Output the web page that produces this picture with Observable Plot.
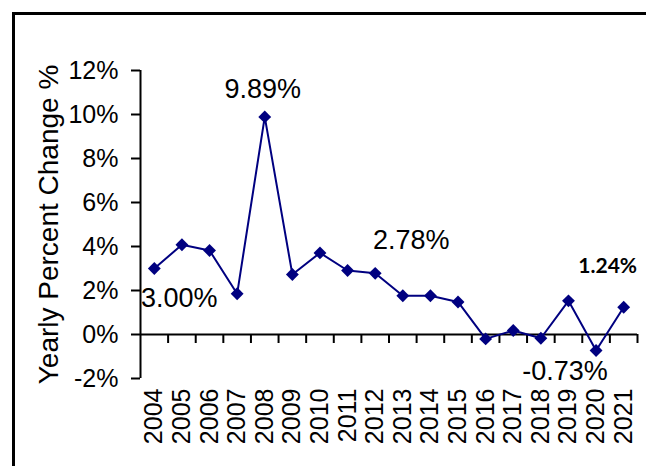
<!DOCTYPE html>
<html><head><meta charset="utf-8">
<script src="https://cdn.jsdelivr.net/npm/d3@7"></script>
<script src="https://cdn.jsdelivr.net/npm/@observablehq/plot@0.6"></script>
<style>
html,body{margin:0;padding:0;background:#fff;}
#wrap{position:relative;width:646px;height:466px;overflow:hidden;}
#frame{position:absolute;left:12px;top:12px;right:-10px;bottom:-10px;border-left:3px solid #000;border-top:3px solid #000;}
#chart{position:absolute;left:0;top:0;}
</style></head><body>
<div id="wrap"><div id="frame"></div><div id="chart"></div></div>
<script>
const years = [2004,2005,2006,2007,2008,2009,2010,2011,2012,2013,2014,2015,2016,2017,2018,2019,2020,2021];
const values = [3.00,4.08,3.82,1.85,9.89,2.73,3.71,2.91,2.78,1.76,1.76,1.48,-0.20,0.18,-0.17,1.53,-0.73,1.24];
const yTicks = [-2,0,2,4,6,8,10,12];
const yTitle = "Yearly Percent Change %";

const data = years.map((year, i) => ({year, value: values[i]}));
const xDomain = [years[0] - 0.5, years[years.length - 1] + 0.5];
const boundaries = years.map(y => y + 0.5);
const fmt = d => d.toFixed(2) + "%";
const NAVY = "#000080";
const FONT = "'Liberation Sans', Arial, sans-serif";

function label(year, dx, dy, extra = {}) {
  return Plot.text(data.filter(d => d.year === year), {
    x: "year", y: "value", text: d => fmt(d.value),
    dx, dy, fontSize: 27, fill: "#000", ...extra
  });
}

const chart = Plot.plot({
  width: 646, height: 466,
  marginTop: 70, marginBottom: 88, marginLeft: 140, marginRight: 9,
  style: {fontFamily: FONT, fontSize: "25px", background: "transparent", overflow: "visible", color: "#000"},
  x: {type: "linear", domain: xDomain, axis: null},
  y: {domain: [-2, 12], axis: null},
  marks: [
    Plot.axisY({ticks: yTicks, tickFormat: d => d + "%", tickSize: 9, tickPadding: 13, strokeWidth: 2, label: null}),
    Plot.axisX({ticks: years, tickFormat: d => String(d), tickRotate: -90, tickSize: 0, tickPadding: 10, label: null}),
    Plot.ruleX([xDomain[0]], {stroke: "#000", strokeWidth: 2}),
    Plot.ruleY([0], {stroke: "#000", strokeWidth: 2}),
    Plot.ruleX(boundaries, {x: d => d, y1: 0, y2: -0.41, stroke: "#000", strokeWidth: 2}),
    Plot.line(data, {x: "year", y: "value", stroke: NAVY, strokeWidth: 2}),
    Plot.dot(data, {x: "year", y: "value", symbol: "diamond2", r: 5.8, fill: NAVY, stroke: null}),
    label(2008, -2, -28),
    label(2004, 25, 30),
    label(2012, 36, -33),
    label(2020, -31, 21),
    label(2021, -16, -41, {fontSize: 21, fontWeight: "bold", fontFamily: "Lato, 'Open Sans', sans-serif"}),
    Plot.text([yTitle], {frameAnchor: "left", text: d => d, rotate: -90, dx: -91, fontSize: 28, textAnchor: "middle", lineAnchor: "middle"})
  ]
});
document.getElementById("chart").appendChild(chart);
</script>
</body></html>
